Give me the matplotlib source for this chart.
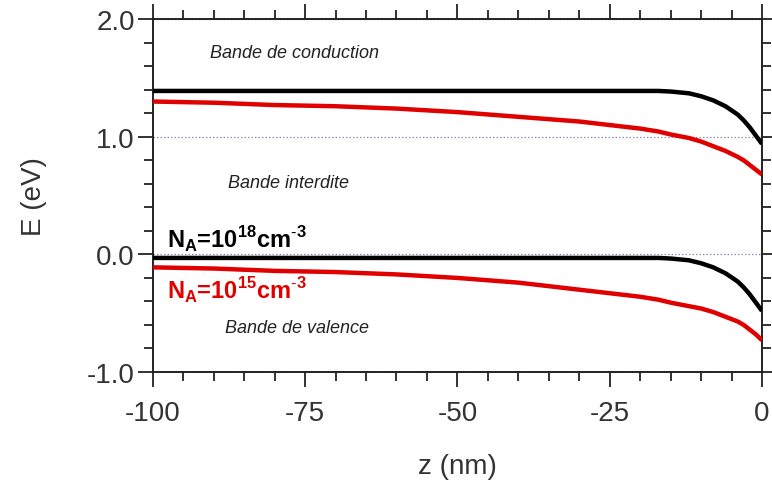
import numpy as np
import matplotlib
matplotlib.use('Agg')
import matplotlib.pyplot as plt
from matplotlib.ticker import MultipleLocator, FormatStrFormatter

# ── data ──────────────────────────────────────────────────────────────────────
z = [-100, -90, -80, -70, -60, -50, -40, -30, -25, -20, -17, -15, -12, -10,
     -8, -6, -4, -3, -2, -1, 0]

# NA = 1e18 cm^-3 (black)
cb_18 = [1.39, 1.39, 1.39, 1.39, 1.39, 1.39, 1.39, 1.39, 1.39, 1.39, 1.39, 1.385,
         1.37, 1.345, 1.31, 1.26, 1.19, 1.14, 1.08, 1.01, 0.94]
vb_18 = [-0.03, -0.03, -0.03, -0.03, -0.03, -0.03, -0.03, -0.03, -0.03, -0.03, -0.03,
         -0.035, -0.05, -0.075, -0.11, -0.16, -0.23, -0.28, -0.34, -0.41, -0.48]

# NA = 1e15 cm^-3 (red)
cb_15 = [1.30, 1.29, 1.27, 1.26, 1.24, 1.21, 1.17, 1.13, 1.10, 1.07, 1.045, 1.02,
         0.99, 0.96, 0.92, 0.88, 0.83, 0.80, 0.76, 0.72, 0.68]
vb_15 = [-0.11, -0.12, -0.14, -0.15, -0.17, -0.20, -0.24, -0.30, -0.33, -0.36, -0.385,
         -0.41, -0.44, -0.46, -0.49, -0.53, -0.57, -0.60, -0.64, -0.68, -0.73]

grid_levels = [2.0, 1.0, 0.0, -1.0]

# ── style ─────────────────────────────────────────────────────────────────────
plt.rcParams['font.family'] = ['Liberation Sans', 'DejaVu Sans']
plt.rcParams['axes.unicode_minus'] = False
plt.rcParams['mathtext.fontset'] = 'custom'
plt.rcParams['mathtext.rm'] = 'Liberation Sans'
plt.rcParams['mathtext.bf'] = 'Liberation Sans:bold'

RED = '#e00000'
TXT = '#333333'

fig = plt.figure(figsize=(7.72, 4.81), dpi=100)
ax = fig.add_axes([0.198, 0.2245, 0.789, 0.7335])

for g in grid_levels:
    ax.axhline(g, color='#8a8ab8', lw=0.9, ls=(0, (1.2, 1.6)), zorder=1)

ax.plot(z, cb_18, color='black', lw=3.2, zorder=3, solid_capstyle='butt')
ax.plot(z, vb_18, color='black', lw=3.2, zorder=3, solid_capstyle='butt')
ax.plot(z, cb_15, color=RED, lw=3.2, zorder=3, solid_capstyle='butt')
ax.plot(z, vb_15, color=RED, lw=3.2, zorder=3, solid_capstyle='butt')

ax.set_xlim(-100, 0)
ax.set_ylim(-1.0, 2.0)
ax.xaxis.set_major_locator(MultipleLocator(25))
ax.xaxis.set_minor_locator(MultipleLocator(5))
ax.yaxis.set_major_locator(MultipleLocator(1.0))
ax.yaxis.set_minor_locator(MultipleLocator(0.2))
ax.yaxis.set_major_formatter(FormatStrFormatter('%.1f'))
ax.tick_params(which='both', direction='out', top=True, right=True,
               labeltop=False, labelright=False, color='#222222', width=1.3)
ax.tick_params(which='major', length=11, labelsize=20, labelcolor=TXT)
ax.tick_params(axis='x', which='major', pad=9)
ax.tick_params(axis='y', which='major', pad=2)
ax.tick_params(which='minor', length=6.5)
for s in ax.spines.values():
    s.set_linewidth(1.4)
    s.set_color('#222222')

ax.set_xlabel('z (nm)', fontsize=20, color=TXT, va='center')
ax.set_ylabel('E (eV)', fontsize=20, color=TXT, va='center')
ax.xaxis.set_label_coords(0.5, -0.266)
ax.yaxis.set_label_coords(-0.195, 0.5)

# annotations
ax.text(-76.7, 1.72, 'Bande de conduction', style='italic', fontsize=13,
        color='#222222', ha='center', va='center')
ax.text(-77.8, 0.61, 'Bande interdite', style='italic', fontsize=13,
        color='#222222', ha='center', va='center')
ax.text(-76.4, -0.62, 'Bande de valence', style='italic', fontsize=13,
        color='#222222', ha='center', va='center')

lab18 = r'N$_{\mathbf{A}}$=10$^{\mathbf{18}}$cm$^{\mathbf{\text{-}3}}$'
lab15 = r'N$_{\mathbf{A}}$=10$^{\mathbf{15}}$cm$^{\mathbf{\text{-}3}}$'
ax.text(-97.6, 0.06, lab18, fontsize=17, fontweight='bold', color='black',
        ha='left', va='baseline')
ax.text(-97.6, -0.38, lab15, fontsize=17, fontweight='bold', color=RED,
        ha='left', va='baseline')

fig.savefig('out.png', dpi=100, facecolor='white')
